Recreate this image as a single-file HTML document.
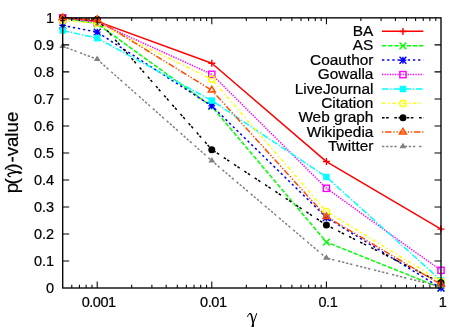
<!DOCTYPE html>
<html><head><meta charset="utf-8"><title>plot</title>
<style>
html,body{margin:0;padding:0;background:#fff;}
body{width:466px;height:327px;overflow:hidden;font-family:"Liberation Sans",sans-serif;}
.t{font-family:"Liberation Sans",sans-serif;fill:#000;stroke:#000;stroke-width:0.22px;}
.s{font-family:"Liberation Serif",serif;fill:#000;}
</style></head><body>
<svg width="466" height="327" viewBox="0 0 466 327" style="display:block;will-change:transform">
<rect width="466" height="327" fill="#ffffff"/>
<polyline points="62.70,17.85 97.20,21.36 211.80,63.24 326.40,161.57 441.00,229.11" fill="none" stroke="#ff0000" stroke-width="1.5" stroke-linejoin="round"/>
<path d="M59.20 17.85H66.20M62.70 14.35V21.35" stroke="#ff0000" stroke-width="1.4" fill="none"/>
<path d="M93.70 21.36H100.70M97.20 17.86V24.86" stroke="#ff0000" stroke-width="1.4" fill="none"/>
<path d="M208.30 63.24H215.30M211.80 59.74V66.74" stroke="#ff0000" stroke-width="1.4" fill="none"/>
<path d="M322.90 161.57H329.90M326.40 158.07V165.07" stroke="#ff0000" stroke-width="1.4" fill="none"/>
<path d="M437.50 229.11H444.50M441.00 225.61V232.61" stroke="#ff0000" stroke-width="1.4" fill="none"/>
<polyline points="62.70,17.85 97.20,23.79 211.80,106.46 326.40,242.07 441.00,288.00" fill="none" stroke="#00ff00" stroke-width="1.5" stroke-dasharray="4.42 1.76" stroke-linejoin="round"/>
<path d="M59.30 14.45L66.10 21.25M59.30 21.25L66.10 14.45" stroke="#00ff00" stroke-width="1.4" fill="none"/>
<path d="M93.80 20.39L100.60 27.19M93.80 27.19L100.60 20.39" stroke="#00ff00" stroke-width="1.4" fill="none"/>
<path d="M208.40 103.06L215.20 109.86M208.40 109.86L215.20 103.06" stroke="#00ff00" stroke-width="1.4" fill="none"/>
<path d="M323.00 238.67L329.80 245.47M323.00 245.47L329.80 238.67" stroke="#00ff00" stroke-width="1.4" fill="none"/>
<path d="M437.60 284.60L444.40 291.40M437.60 291.40L444.40 284.60" stroke="#00ff00" stroke-width="1.4" fill="none"/>
<polyline points="62.70,25.41 97.20,32.17 211.80,105.92 326.40,217.49 441.00,288.00" fill="none" stroke="#0000ff" stroke-width="1.5" stroke-dasharray="2.36 2.79" stroke-linejoin="round"/>
<path d="M59.30 25.41H66.10M62.70 22.01V28.81M59.30 22.01L66.10 28.81M59.30 28.81L66.10 22.01" stroke="#0000ff" stroke-width="1.4" fill="none"/>
<path d="M93.80 32.17H100.60M97.20 28.77V35.57M93.80 28.77L100.60 35.57M93.80 35.57L100.60 28.77" stroke="#0000ff" stroke-width="1.4" fill="none"/>
<path d="M208.40 105.92H215.20M211.80 102.52V109.32M208.40 102.52L215.20 109.32M208.40 109.32L215.20 102.52" stroke="#0000ff" stroke-width="1.4" fill="none"/>
<path d="M323.00 217.49H329.80M326.40 214.09V220.89M323.00 214.09L329.80 220.89M323.00 220.89L329.80 214.09" stroke="#0000ff" stroke-width="1.4" fill="none"/>
<path d="M437.60 288.00H444.40M441.00 284.60V291.40M437.60 284.60L444.40 291.40M437.60 291.40L444.40 284.60" stroke="#0000ff" stroke-width="1.4" fill="none"/>
<polyline points="62.70,17.85 97.20,22.17 211.80,74.31 326.40,188.31 441.00,270.36" fill="none" stroke="#ff00ff" stroke-width="1.5" stroke-dasharray="1.33 1.24" stroke-linejoin="round"/>
<rect x="59.60" y="14.75" width="6.20" height="6.20" stroke="#ff00ff" stroke-width="1.4" fill="none"/>
<rect x="94.10" y="19.07" width="6.20" height="6.20" stroke="#ff00ff" stroke-width="1.4" fill="none"/>
<rect x="208.70" y="71.21" width="6.20" height="6.20" stroke="#ff00ff" stroke-width="1.4" fill="none"/>
<rect x="323.30" y="185.21" width="6.20" height="6.20" stroke="#ff00ff" stroke-width="1.4" fill="none"/>
<rect x="437.90" y="267.26" width="6.20" height="6.20" stroke="#ff00ff" stroke-width="1.4" fill="none"/>
<polyline points="62.70,30.55 97.20,38.11 211.80,100.52 326.40,176.97 441.00,280.44" fill="none" stroke="#00ffff" stroke-width="1.5" stroke-dasharray="6.48 1.76 1.33 1.76" stroke-linejoin="round"/>
<rect x="59.45" y="27.30" width="6.50" height="6.50" fill="#00ffff"/>
<rect x="93.95" y="34.86" width="6.50" height="6.50" fill="#00ffff"/>
<rect x="208.55" y="97.27" width="6.50" height="6.50" fill="#00ffff"/>
<rect x="323.15" y="173.72" width="6.50" height="6.50" fill="#00ffff"/>
<rect x="437.75" y="277.19" width="6.50" height="6.50" fill="#00ffff"/>
<polyline points="62.70,20.55 97.20,23.25 211.80,79.17 326.40,211.55 441.00,281.25" fill="none" stroke="#ffff00" stroke-width="1.5" stroke-dasharray="3.39 2.79 1.33 2.79" stroke-linejoin="round"/>
<circle cx="62.70" cy="20.55" r="3.15" stroke="#ffff00" stroke-width="1.4" fill="none"/>
<circle cx="97.20" cy="23.25" r="3.15" stroke="#ffff00" stroke-width="1.4" fill="none"/>
<circle cx="211.80" cy="79.17" r="3.15" stroke="#ffff00" stroke-width="1.4" fill="none"/>
<circle cx="326.40" cy="211.55" r="3.15" stroke="#ffff00" stroke-width="1.4" fill="none"/>
<circle cx="441.00" cy="281.25" r="3.15" stroke="#ffff00" stroke-width="1.4" fill="none"/>
<polyline points="62.70,17.85 97.20,19.20 211.80,149.68 326.40,225.06 441.00,282.87" fill="none" stroke="#000000" stroke-width="1.5" stroke-dasharray="2.6 1.5 2.6 5.66" stroke-linejoin="round"/>
<circle cx="62.70" cy="17.85" r="3.50" fill="#000000"/>
<circle cx="97.20" cy="19.20" r="3.50" fill="#000000"/>
<circle cx="211.80" cy="149.68" r="3.50" fill="#000000"/>
<circle cx="326.40" cy="225.06" r="3.50" fill="#000000"/>
<circle cx="441.00" cy="282.87" r="3.50" fill="#000000"/>
<polyline points="62.70,17.85 97.20,19.74 211.80,90.25 326.40,216.68 441.00,284.49" fill="none" stroke="#ff4d00" stroke-width="1.5" stroke-dasharray="1.33 1.76 6.48 1.76 1.33 1.76" stroke-linejoin="round"/>
<polygon points="62.70,14.04 59.30,19.55 66.10,19.55" stroke="#ff4d00" stroke-width="1.57" fill="none" stroke-linejoin="miter"/>
<polygon points="97.20,15.93 93.80,21.44 100.60,21.44" stroke="#ff4d00" stroke-width="1.57" fill="none" stroke-linejoin="miter"/>
<polygon points="211.80,86.44 208.40,91.95 215.20,91.95" stroke="#ff4d00" stroke-width="1.57" fill="none" stroke-linejoin="miter"/>
<polygon points="326.40,212.87 323.00,218.38 329.80,218.38" stroke="#ff4d00" stroke-width="1.57" fill="none" stroke-linejoin="miter"/>
<polygon points="441.00,280.68 437.60,286.19 444.40,286.19" stroke="#ff4d00" stroke-width="1.57" fill="none" stroke-linejoin="miter"/>
<polyline points="62.70,46.22 97.20,59.32 211.80,160.76 326.40,258.01 441.00,286.65" fill="none" stroke="#808080" stroke-width="1.5" stroke-dasharray="2.36 1.76 2.36 1.76 2.36 1.76 2.36 3.82" stroke-linejoin="round"/>
<polygon points="62.70,42.41 59.30,47.92 66.10,47.92" fill="#808080"/>
<polygon points="97.20,55.51 93.80,61.02 100.60,61.02" fill="#808080"/>
<polygon points="211.80,156.95 208.40,162.46 215.20,162.46" fill="#808080"/>
<polygon points="326.40,254.21 323.00,259.71 329.80,259.71" fill="#808080"/>
<polygon points="441.00,282.84 437.60,288.35 444.40,288.35" fill="#808080"/>
<path d="M382.0 31.30H423.4" stroke="#ff0000" stroke-width="1.5" fill="none"/>
<path d="M399.45 31.45H406.45M402.95 27.95V34.95" stroke="#ff0000" stroke-width="1.4" fill="none"/>
<text x="373.4" y="36.00" text-anchor="end" font-size="15.4" class="t">BA</text>
<path d="M382.0 45.70H423.4" stroke="#00ff00" stroke-width="1.5" stroke-dasharray="4.42 1.76" fill="none"/>
<path d="M399.55 42.45L406.35 49.25M399.55 49.25L406.35 42.45" stroke="#00ff00" stroke-width="1.4" fill="none"/>
<text x="373.4" y="50.40" text-anchor="end" font-size="15.4" class="t">AS</text>
<path d="M382.0 60.10H423.4" stroke="#0000ff" stroke-width="1.5" stroke-dasharray="2.36 2.79" fill="none"/>
<path d="M399.55 60.25H406.35M402.95 56.85V63.65M399.55 56.85L406.35 63.65M399.55 63.65L406.35 56.85" stroke="#0000ff" stroke-width="1.4" fill="none"/>
<text x="373.4" y="64.80" text-anchor="end" font-size="15.4" class="t">Coauthor</text>
<path d="M382.0 74.50H423.4" stroke="#ff00ff" stroke-width="1.5" stroke-dasharray="1.33 1.24" fill="none"/>
<rect x="399.85" y="71.55" width="6.20" height="6.20" stroke="#ff00ff" stroke-width="1.4" fill="none"/>
<text x="373.4" y="79.20" text-anchor="end" font-size="15.4" class="t">Gowalla</text>
<path d="M382.0 88.90H423.4" stroke="#00ffff" stroke-width="1.5" stroke-dasharray="6.48 1.76 1.33 1.76" fill="none"/>
<rect x="399.70" y="85.80" width="6.50" height="6.50" fill="#00ffff"/>
<text x="373.4" y="93.60" text-anchor="end" font-size="15.4" class="t">LiveJournal</text>
<path d="M382.0 103.30H423.4" stroke="#ffff00" stroke-width="1.5" stroke-dasharray="3.39 2.79 1.33 2.79" fill="none"/>
<circle cx="402.95" cy="103.45" r="3.15" stroke="#ffff00" stroke-width="1.4" fill="none"/>
<text x="373.4" y="108.00" text-anchor="end" font-size="15.4" class="t">Citation</text>
<path d="M382.0 117.70H423.4" stroke="#000000" stroke-width="1.5" stroke-dasharray="2.6 1.5 2.6 5.66" fill="none"/>
<circle cx="402.95" cy="117.85" r="3.50" fill="#000000"/>
<text x="373.4" y="122.40" text-anchor="end" font-size="15.4" class="t">Web graph</text>
<path d="M382.0 132.10H423.4" stroke="#ff4d00" stroke-width="1.5" stroke-dasharray="1.33 1.76 6.48 1.76 1.33 1.76" fill="none"/>
<polygon points="402.95,128.44 399.55,133.95 406.35,133.95" stroke="#ff4d00" stroke-width="1.57" fill="none" stroke-linejoin="miter"/>
<text x="373.4" y="136.80" text-anchor="end" font-size="15.4" class="t">Wikipedia</text>
<path d="M382.0 146.50H423.4" stroke="#808080" stroke-width="1.5" stroke-dasharray="2.36 1.76 2.36 1.76 2.36 1.76 2.36 3.82" fill="none"/>
<polygon points="402.95,142.84 399.55,148.35 406.35,148.35" fill="#808080"/>
<text x="373.4" y="151.20" text-anchor="end" font-size="15.4" class="t">Twitter</text>
<path d="M62.7 260.99h6.5M441.0 260.99h-6.5M62.7 233.97h6.5M441.0 233.97h-6.5M62.7 206.96h6.5M441.0 206.96h-6.5M62.7 179.94h6.5M441.0 179.94h-6.5M62.7 152.93h6.5M441.0 152.93h-6.5M62.7 125.91h6.5M441.0 125.91h-6.5M62.7 98.90h6.5M441.0 98.90h-6.5M62.7 71.88h6.5M441.0 71.88h-6.5M62.7 44.87h6.5M441.0 44.87h-6.5M71.77 288.0v-3.2M71.77 17.85v3.2M79.45 288.0v-3.2M79.45 17.85v3.2M86.09 288.0v-3.2M86.09 17.85v3.2M91.95 288.0v-3.2M91.95 17.85v3.2M97.20 288.0v-6.5M97.20 17.85v6.5M131.70 288.0v-3.2M131.70 17.85v3.2M151.88 288.0v-3.2M151.88 17.85v3.2M166.19 288.0v-3.2M166.19 17.85v3.2M177.30 288.0v-3.2M177.30 17.85v3.2M186.37 288.0v-3.2M186.37 17.85v3.2M194.05 288.0v-3.2M194.05 17.85v3.2M200.69 288.0v-3.2M200.69 17.85v3.2M206.55 288.0v-3.2M206.55 17.85v3.2M211.80 288.0v-6.5M211.80 17.85v6.5M246.30 288.0v-3.2M246.30 17.85v3.2M266.48 288.0v-3.2M266.48 17.85v3.2M280.80 288.0v-3.2M280.80 17.85v3.2M291.90 288.0v-3.2M291.90 17.85v3.2M300.98 288.0v-3.2M300.98 17.85v3.2M308.65 288.0v-3.2M308.65 17.85v3.2M315.29 288.0v-3.2M315.29 17.85v3.2M321.16 288.0v-3.2M321.16 17.85v3.2M326.40 288.0v-6.5M326.40 17.85v6.5M360.90 288.0v-3.2M360.90 17.85v3.2M381.08 288.0v-3.2M381.08 17.85v3.2M395.40 288.0v-3.2M395.40 17.85v3.2M406.50 288.0v-3.2M406.50 17.85v3.2M415.58 288.0v-3.2M415.58 17.85v3.2M423.25 288.0v-3.2M423.25 17.85v3.2M429.89 288.0v-3.2M429.89 17.85v3.2M435.76 288.0v-3.2M435.76 17.85v3.2" stroke="#000" stroke-width="1.05" fill="none"/>
<rect x="62.7" y="17.85" width="378.3" height="270.15" fill="none" stroke="#000" stroke-width="1.35"/>
<text x="54.1" y="292.90" text-anchor="end" font-size="14.5" class="t">0</text>
<text x="54.1" y="265.88" text-anchor="end" font-size="14.5" class="t">0.1</text>
<text x="54.1" y="238.87" text-anchor="end" font-size="14.5" class="t">0.2</text>
<text x="54.1" y="211.86" text-anchor="end" font-size="14.5" class="t">0.3</text>
<text x="54.1" y="184.84" text-anchor="end" font-size="14.5" class="t">0.4</text>
<text x="54.1" y="157.83" text-anchor="end" font-size="14.5" class="t">0.5</text>
<text x="54.1" y="130.81" text-anchor="end" font-size="14.5" class="t">0.6</text>
<text x="54.1" y="103.80" text-anchor="end" font-size="14.5" class="t">0.7</text>
<text x="54.1" y="76.78" text-anchor="end" font-size="14.5" class="t">0.8</text>
<text x="54.1" y="49.77" text-anchor="end" font-size="14.5" class="t">0.9</text>
<text x="54.1" y="22.75" text-anchor="end" font-size="14.5" class="t">1</text>
<text x="98.70" y="307.0" text-anchor="middle" font-size="14.5" class="t" letter-spacing="-0.45">0.001</text>
<text x="213.30" y="307.0" text-anchor="middle" font-size="14.5" class="t" letter-spacing="-0.45">0.01</text>
<text x="327.90" y="307.0" text-anchor="middle" font-size="14.5" class="t" letter-spacing="-0.45">0.1</text>
<text x="442.50" y="307.0" text-anchor="middle" font-size="14.5" class="t" letter-spacing="-0.45">1</text>
<g transform="translate(247.6 324.6)" fill="none" stroke="#000" stroke-linecap="round" stroke-linejoin="round"><path d="M0.1,-8.0C0.4,-9.9 1.3,-11.1 2.5,-11.1" stroke-width="1.00"/><path d="M2.4,-10.8C3.6,-11.0 4.0,-9.2 4.4,-7.2L5.5,-1.7C5.5,-0.2 4.9,1.3 4.8,3.8" stroke-width="1.60"/><path d="M5.3,0.5C5.2,1.6 4.9,2.6 4.8,3.8" stroke-width="2.00"/><path d="M9.1,-11.1L5.8,-2.0" stroke-width="1.00"/></g>
<g transform="translate(17.5 0) rotate(-90)">
<text x="-193.2" y="0" font-size="18.7" class="t">p</text>
<text x="-184.5" y="0" font-size="19" class="t">(</text>
<text x="-169.8" y="0" font-size="19" class="t">)</text>
<text x="-162.6" y="0" font-size="18.7" class="t">-value</text>
</g>
<g transform="translate(17.5 176.8) rotate(-90) scale(0.86)" fill="none" stroke="#000" stroke-linecap="round" stroke-linejoin="round"><path d="M0.1,-8.0C0.4,-9.9 1.3,-11.1 2.5,-11.1" stroke-width="1.20"/><path d="M2.4,-10.8C3.6,-11.0 4.0,-9.2 4.4,-7.2L5.5,-1.7C5.5,-0.2 4.9,1.3 4.8,3.8" stroke-width="1.92"/><path d="M5.3,0.5C5.2,1.6 4.9,2.6 4.8,3.8" stroke-width="2.40"/><path d="M9.1,-11.1L5.8,-2.0" stroke-width="1.20"/></g>
</svg>
</body></html>
